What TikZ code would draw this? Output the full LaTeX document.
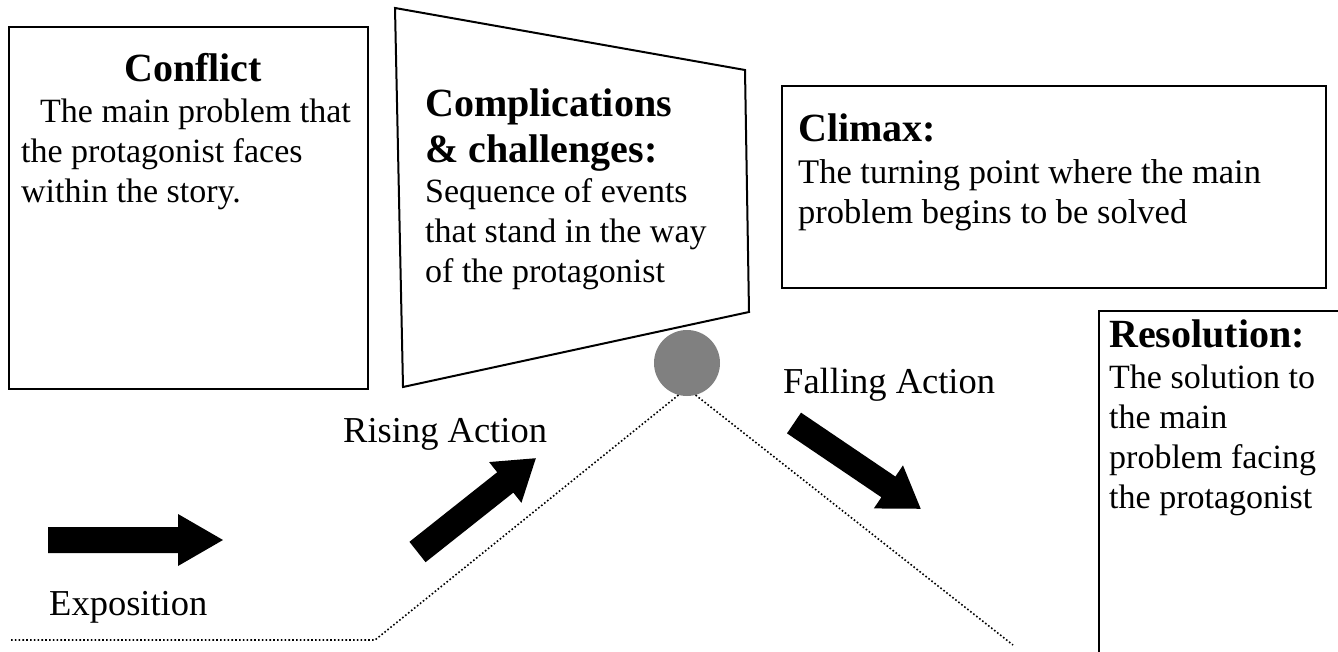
\documentclass[tikz,border=0pt]{standalone}
\usepackage{fontspec}
\setmainfont{Liberation Serif}
\begin{document}
\begin{tikzpicture}[x=1pt,y=-1pt,
  boxline/.style={draw=black,line width=2pt},
  panel/.style={boxline,fill=none,inner sep=0pt,anchor=north west},
  txt/.style={inner sep=0pt,anchor=base west,align=left},
  headfont/.style={font=\fontsize{40}{46}\selectfont\bfseries},
  bodyfont/.style={font=\fontsize{34}{40}\selectfont},
  labelfont/.style={font=\fontsize{36.5}{42}\selectfont},
  dotline/.style={line width=1.6pt,dash pattern=on 1.6pt off 2.2pt,black},
  bigarrow/.style={fill=black,draw=none}]
\useasboundingbox (0,0) rectangle (1338,652);
\clip (0,0) rectangle (1338,652);
\fill[white] (0,0) rectangle (1338,652);

% Conflict box
\node[panel,minimum width=359pt,minimum height=362pt] (conflictbox) at (8,26) {};
\node[txt,headfont,anchor=base] (conflicthead) at (193,82) {Conflict};
\node[txt,bodyfont] (conflicttext) at (21,123)
  {\vtop{\hbox{\hspace{19pt}The main problem that}\hbox{the protagonist faces}\hbox{within the story.}}};

% Complications trapezoid
\coordinate (tz1) at (395,8);
\coordinate (tz2) at (745,70);
\coordinate (tz3) at (749,312);
\coordinate (tz4) at (403,387);
\draw[boxline,line join=miter] (tz1) -- (tz2) -- (tz3) -- (tz4) -- cycle;
\node[txt,headfont] (comptext) at (425,117)
  {\vtop{\hbox{Complications}\hbox{\& challenges:}\fontsize{34}{40}\selectfont\mdseries
   \hbox{Sequence of events}\hbox{that stand in the way}\hbox{of the protagonist}}};

% Climax box
\node[panel,minimum width=544pt,minimum height=202pt] (climaxbox) at (781,85) {};
\node[txt,headfont] (climaxtext) at (798,142)
  {\vtop{\hbox{Climax:}\fontsize{34.5}{40}\selectfont\mdseries\kern2pt
   \hbox{The turning point where the main}\hbox{problem begins to be solved}}};

% Resolution box (runs off the page)
\node[panel,minimum width=420pt,minimum height=420pt] (resolutionbox) at (1098,310) {};
\node[txt,headfont] (resolutiontext) at (1109,347)
  {\vtop{\hbox{Resolution:}\fontsize{34}{40}\selectfont\mdseries\kern1pt
   \hbox{The solution to}\hbox{the main}\hbox{problem facing}\hbox{the protagonist}}};

% Climax point
\node[circle,fill=gray,draw=none,minimum size=66pt,inner sep=0pt] (peak) at (687,363) {};

% plot line
\coordinate (start) at (11,640);
\coordinate (corner) at (375,640);
\coordinate (finish) at (1013,645);
\draw[dotline] (start) -- (corner) -- (peak.-105);
\draw[dotline] (peak.-75) -- (finish);

% labels
\node[txt,labelfont] (exposition) at (49,615) {Exposition};
\node[txt,labelfont] (rising) at (343,442) {Rising Action};
\node[txt,labelfont] (falling) at (783,393) {Falling Action};

% block arrows
\fill[bigarrow] (48,527) -- (178,527) -- (178,514) -- (223,540) -- (178,566) -- (178,553) -- (48,553) -- cycle;
\begin{scope}[shift={(417.5,552)},rotate=38.4]
  \fill[bigarrow] (0,-13) -- (112,-13) -- (112,-26) -- (151,0) -- (112,26) -- (112,13) -- (0,13) -- cycle;
\end{scope}
\begin{scope}[shift={(794,423)},rotate=-34.1]
  \fill[bigarrow] (0,-12.5) -- (114,-12.5) -- (114,-26) -- (153,0) -- (114,26) -- (114,12.5) -- (0,12.5) -- cycle;
\end{scope}
\end{tikzpicture}
\end{document}
